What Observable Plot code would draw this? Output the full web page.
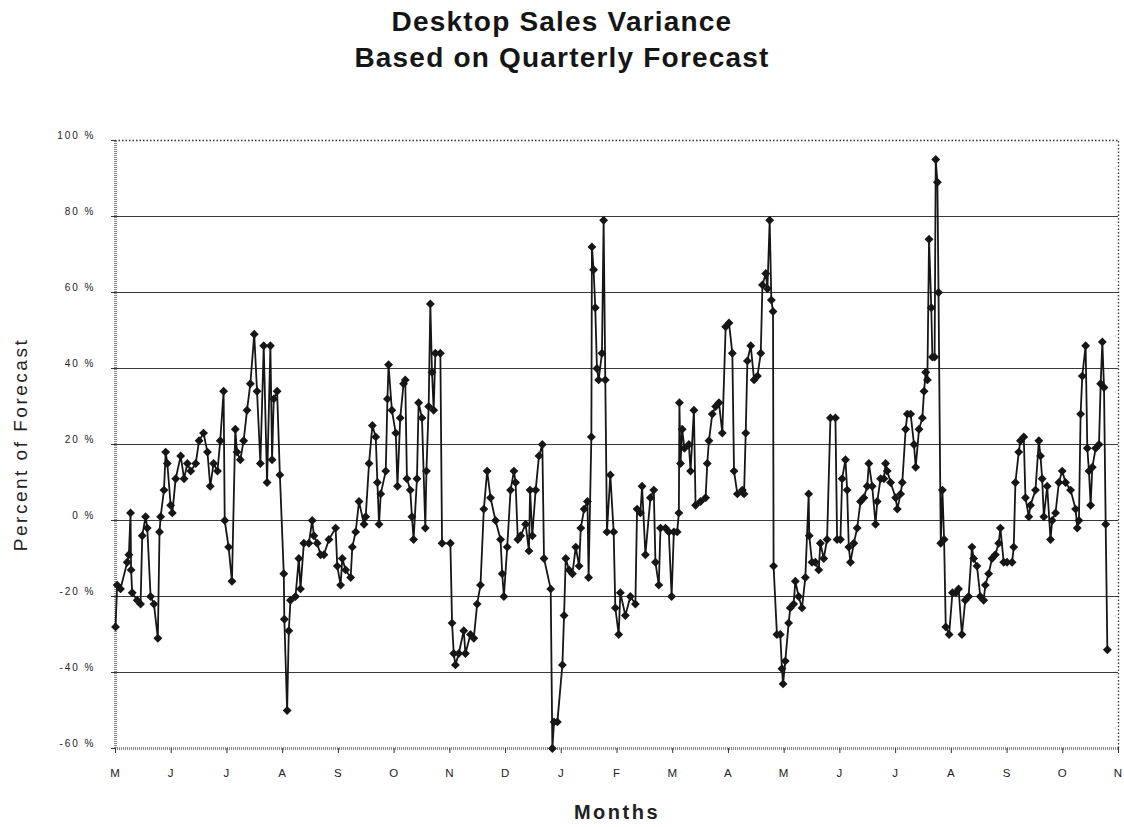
<!DOCTYPE html>
<html><head><meta charset="utf-8">
<script src="https://cdn.jsdelivr.net/npm/d3@7"></script>
<script src="https://cdn.jsdelivr.net/npm/@observablehq/plot@0.6"></script>
<style>
body{margin:0;background:#fff;font-family:"Liberation Sans",Arial,sans-serif;}
#title{height:100px;box-sizing:border-box;padding-top:4px;text-align:center;font-weight:bold;font-size:28px;line-height:36px;letter-spacing:1.2px;color:#151515;}
#chart svg{display:block;}
</style></head><body>
<div id="title"><div>Desktop Sales Variance</div><div>Based on Quarterly Forecast</div></div>
<div id="chart"></div>
<script>
const monthLabels = ["M","J","J","A","S","O","N","D","J","F","M","A","M","J","J","A","S","O","N"];
const yTicks = [-60,-40,-20,0,20,40,60,80,100];
// time in months since start of first May
const months = [
0.00,0.03,0.09,0.21,0.24,0.27,0.28,0.30,0.39,0.45,0.48,0.54,0.57,0.63,0.69,0.76,0.79,0.81,0.87,0.90,
0.93,0.99,1.02,1.08,1.17,1.23,1.29,1.35,1.44,1.50,1.58,1.65,1.70,1.76,1.83,1.88,1.94,1.96,2.03,2.09,
2.15,2.18,2.24,2.30,2.36,2.42,2.49,2.54,2.60,2.66,2.72,2.78,2.81,2.84,2.90,2.95,3.02,3.03,3.08,3.11,
3.14,3.23,3.29,3.32,3.38,3.47,3.53,3.56,3.62,3.68,3.74,3.83,3.95,3.98,4.04,4.07,4.13,4.22,4.25,4.31,
4.37,4.46,4.49,4.55,4.61,4.67,4.70,4.73,4.76,4.85,4.88,4.90,4.96,5.03,5.06,5.11,5.17,5.20,5.23,5.29,
5.32,5.35,5.41,5.44,5.50,5.56,5.58,5.62,5.65,5.68,5.71,5.74,5.83,5.86,6.01,6.04,6.07,6.10,6.16,6.25,
6.28,6.37,6.43,6.49,6.55,6.61,6.67,6.73,6.82,6.91,6.94,6.97,7.03,7.09,7.15,7.18,7.22,7.27,7.36,7.42,
7.44,7.48,7.54,7.60,7.66,7.69,7.81,7.84,7.87,7.93,8.02,8.05,8.08,8.14,8.20,8.26,8.32,8.35,8.41,8.47,
8.49,8.54,8.55,8.58,8.61,8.64,8.67,8.73,8.76,8.79,8.82,8.88,8.94,8.97,9.03,9.06,9.15,9.24,9.33,9.36,
9.42,9.45,9.51,9.60,9.66,9.69,9.75,9.78,9.87,9.93,9.98,10.02,10.08,10.11,10.12,10.14,10.17,10.21,10.29,10.32,
10.38,10.41,10.50,10.59,10.62,10.65,10.71,10.77,10.83,10.89,10.95,11.01,11.07,11.10,11.16,11.25,11.28,11.31,11.34,11.40,
11.46,11.52,11.58,11.61,11.67,11.70,11.74,11.77,11.80,11.81,11.87,11.93,11.96,11.98,12.02,12.08,12.11,12.17,12.20,12.26,
12.32,12.38,12.44,12.45,12.50,12.56,12.62,12.65,12.71,12.77,12.83,12.92,12.95,13.01,13.04,13.10,13.13,13.16,13.19,13.25,
13.31,13.37,13.43,13.49,13.52,13.58,13.64,13.67,13.73,13.79,13.82,13.85,13.91,14.00,14.03,14.09,14.12,14.18,14.21,14.27,
14.33,14.36,14.42,14.48,14.51,14.54,14.57,14.60,14.64,14.66,14.70,14.72,14.75,14.77,14.81,14.84,14.87,14.90,14.96,15.02,
15.08,15.13,15.19,15.25,15.31,15.37,15.40,15.46,15.52,15.58,15.61,15.67,15.73,15.79,15.85,15.88,15.94,16.00,16.09,16.12,
16.15,16.21,16.24,16.30,16.33,16.39,16.42,16.51,16.57,16.60,16.63,16.66,16.72,16.78,16.81,16.87,16.93,16.99,17.05,17.14,
17.23,17.26,17.29,17.32,17.35,17.41,17.44,17.47,17.50,17.53,17.59,17.65,17.68,17.71,17.74,17.77,17.80
];
// percent of forecast
const pct = [
-28,-17,-18,-11,-9,2,-13,-19,-21,-22,-4,1,-2,-20,-22,-31,-3,1,8,18,
15,4,2,11,17,11,15,13,15,21,23,18,9,15,13,21,34,0,-7,-16,
24,18,16,21,29,36,49,34,15,46,10,46,16,32,34,12,-14,-26,-50,-29,
-21,-20,-10,-18,-6,-6,0,-4,-6,-9,-9,-5,-2,-12,-17,-10,-13,-15,-7,-3,
5,-1,1,15,25,22,10,-1,7,13,32,41,29,23,9,27,36,37,11,8,
1,-5,11,31,27,-2,13,30,57,39,29,44,44,-6,-6,-27,-35,-38,-35,-29,
-35,-30,-31,-22,-17,3,13,6,0,-5,-14,-20,-7,8,13,10,-5,-4,-1,-8,
8,-4,8,17,20,-10,-18,-60,-53,-53,-38,-25,-10,-13,-14,-7,-12,-2,3,5,
-15,22,72,66,56,40,37,44,79,37,-3,12,-3,-23,-30,-19,-25,-20,-22,3,
2,9,-9,6,8,-11,-17,-2,-2,-3,-20,-3,-3,2,31,15,24,19,20,13,
29,4,5,6,15,21,28,30,31,23,51,52,44,13,7,8,7,23,42,46,
37,38,44,62,65,61,79,58,55,-12,-30,-30,-39,-43,-37,-27,-23,-22,-16,-20,
-23,-15,7,-4,-11,-11,-13,-6,-10,-5,27,27,-5,-5,11,16,8,-7,-11,-6,
-2,5,6,9,15,9,-1,5,11,11,15,13,10,6,3,7,10,24,28,28,
20,14,24,27,34,39,37,74,56,43,43,95,89,60,-6,8,-5,-28,-30,-19,
-19,-18,-30,-21,-20,-7,-10,-12,-20,-21,-17,-14,-10,-9,-6,-2,-11,-11,-11,-7,
10,18,21,22,6,1,4,8,21,17,11,1,9,-5,0,2,10,13,10,8,
3,-2,0,28,38,46,19,13,4,14,19,20,36,47,35,-1,-34
];
const data = months.map((m, i) => ({month: m, pct: pct[i]}));
const gridVals = yTicks.filter(v => v > -60 && v < 100);

const chart = Plot.plot({
  width: 1124, height: 727,
  marginTop: 40, marginBottom: 79, marginLeft: 115, marginRight: 6,
  style: {fontFamily: "'Liberation Sans', Arial, sans-serif", background: "#fff", color: "#222"},
  x: {domain: [0, 18]},
  y: {domain: [-60, 100]},
  marks: [
    Plot.ruleY(gridVals, {x1: 0, x2: 18, stroke: "#3a3a3a", strokeWidth: 1.1}),
    Plot.ruleY([100], {x1: 0, x2: 18, stroke: "#333", strokeWidth: 1.3, strokeDasharray: "1.5,2"}),
    Plot.ruleX([18], {y1: -60, y2: 100, stroke: "#333", strokeWidth: 1.3, strokeDasharray: "1.5,2"}),
    Plot.ruleY([-60], {x1: 0, x2: 18, stroke: "#8a8a8a", strokeWidth: 3, strokeDasharray: "1,1"}),
    Plot.ruleX([0], {y1: -60, y2: 100, stroke: "#8a8a8a", strokeWidth: 3, strokeDasharray: "1,1"}),
    Plot.axisY({ticks: yTicks, tickFormat: () => "", tickSize: 4, label: null, stroke: "#333"}),
    Plot.axisY({ticks: yTicks, tickFormat: d => d + " %", tickSize: 0, tickPadding: 20, dy: -5, fontSize: 10, label: null}),
    Plot.axisX({ticks: d3.range(19), tickFormat: i => monthLabels[i], tickSize: 5, tickPadding: 15, fontSize: 11.5, label: null, stroke: "#333"}),
    Plot.line(data, {x: "month", y: "pct", stroke: "#161616", strokeWidth: 1.8}),
    Plot.dot(data, {x: "month", y: "pct", symbol: "diamond2", r: 4, fill: "#161616", stroke: "none"}),
    Plot.text(["Percent of Forecast"], {frameAnchor: "left", textAnchor: "middle", dx: -95, rotate: -90, fontSize: 19, fill: "#222"}),
    Plot.text(["Months"], {frameAnchor: "bottom", dy: 70, fontSize: 20, fontWeight: "bold", fill: "#222"})
  ]
});
document.getElementById("chart").appendChild(chart);
const svg = d3.select(chart);
svg.selectAll('g[aria-label="y-axis tick label"] text').style("letter-spacing", "2px");
svg.selectAll('g[aria-label="x-axis tick label"] text').style("letter-spacing", "1px");
svg.selectAll('g[aria-label="text"] text').style("letter-spacing", "2.5px");
</script>
</body></html>
